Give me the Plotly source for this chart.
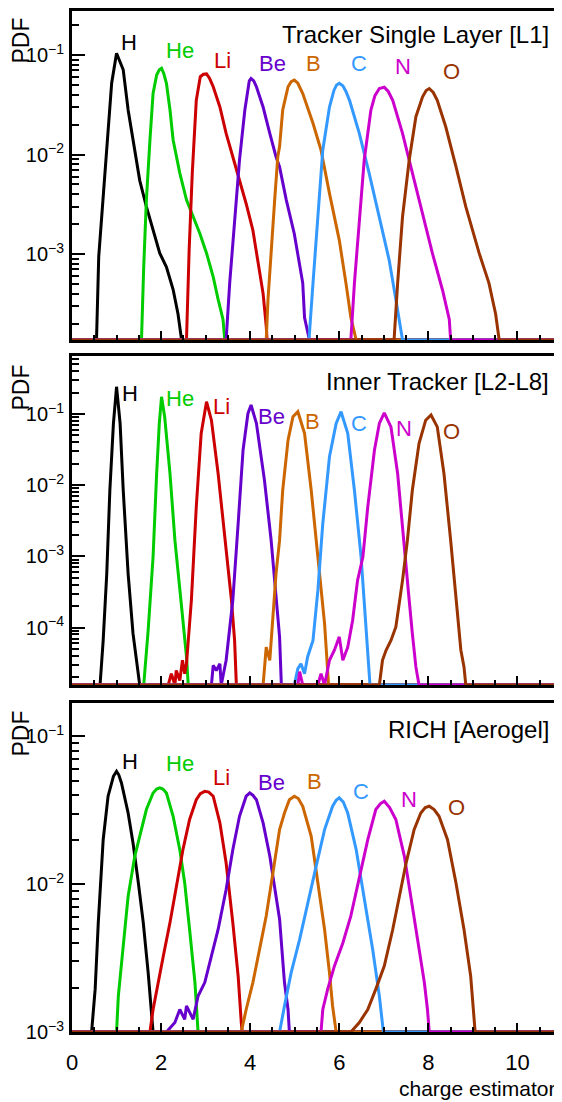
import plotly.graph_objects as go

# ---------------- chart content ----------------
SPECIES = ["H", "He", "Li", "Be", "B", "C", "N", "O"]
COLORS = ["#000000", "#00cc00", "#cc0000", "#6600cc", "#cc6600", "#3399ff", "#cc00cc", "#993300"]
PANEL_TITLES = ["Tracker Single Layer [L1]", "Inner Tracker [L2-L8]", "RICH [Aerogel]"]
X_TITLE = "charge estimator"
Y_TITLE = "PDF"

# ---- Tracker Single Layer [L1] (0 = empty bin) ----
L1_H_x = [0.55, 0.60, 0.78, 0.89, 1.00, 1.15, 1.26, 1.37, 1.52, 1.67, 1.82, 1.97, 2.12, 2.27, 2.38, 2.46]
L1_H_y = [0, 9.4e-4, 1.1e-2, 5.2e-2, 1.04e-1, 7.1e-2, 2.8e-2, 1.4e-2, 5.5e-3, 3.0e-3, 1.74e-3, 1.02e-3, 7.4e-4, 4.4e-4, 2.5e-4, 0]
L1_He_x = [1.56, 1.61, 1.67, 1.75, 1.82, 1.90, 1.96, 2.01, 2.06, 2.12, 2.20, 2.27, 2.42, 2.57, 2.72, 2.87, 3.02, 3.17, 3.28, 3.39, 3.43]
L1_He_y = [0, 7.5e-4, 3.5e-3, 1.4e-2, 4.1e-2, 6.3e-2, 7.1e-2, 7.35e-2, 6.5e-2, 5.2e-2, 2.8e-2, 1.4e-2, 6.5e-3, 3.5e-3, 2.37e-3, 1.61e-3, 1.02e-3, 5.9e-4, 3.5e-4, 2.2e-4, 0]
L1_Li_x = [2.57, 2.63, 2.70, 2.79, 2.88, 2.95, 3.02, 3.09, 3.17, 3.32, 3.46, 3.61, 3.76, 3.91, 4.06, 4.17, 4.29, 4.36, 4.38]
L1_Li_y = [0, 1.1e-3, 6.5e-3, 3.5e-2, 6.05e-2, 6.4e-2, 6.45e-2, 5.8e-2, 4.8e-2, 3.0e-2, 1.63e-2, 9.5e-3, 5.55e-3, 3.2e-3, 1.74e-3, 8.7e-4, 4.0e-4, 1.9e-4, 0]
L1_Be_x = [3.46, 3.54, 3.65, 3.76, 3.88, 3.95, 3.98, 4.02, 4.08, 4.14, 4.29, 4.44, 4.58, 4.66, 4.81, 4.99, 5.18, 5.22, 5.33]
L1_Be_y = [0, 5.1e-4, 2.37e-3, 8.8e-3, 2.8e-2, 4.8e-2, 5.5e-2, 5.8e-2, 5.5e-2, 4.8e-2, 3.0e-2, 1.63e-2, 9.5e-3, 7.5e-3, 3.5e-3, 1.6e-3, 5.1e-4, 2.3e-4, 0]
L1_B_x = [4.36, 4.40, 4.47, 4.55, 4.62, 4.66, 4.73, 4.85, 4.92, 4.99, 5.07, 5.18, 5.41, 5.59, 5.78, 6.00, 6.15, 6.26, 6.38]
L1_B_y = [0, 3.5e-4, 1.1e-3, 3.5e-3, 9.5e-3, 1.2e-2, 2.8e-2, 4.8e-2, 5.4e-2, 5.6e-2, 5.2e-2, 4.1e-2, 2.06e-2, 1.11e-2, 4.07e-3, 1.38e-3, 5.1e-4, 2.3e-4, 0]
L1_C_x = [5.32, 5.41, 5.52, 5.63, 5.78, 5.88, 5.94, 6.00, 6.08, 6.15, 6.23, 6.45, 6.67, 6.90, 7.12, 7.27, 7.42]
L1_C_y = [0, 5.1e-4, 2.37e-3, 1.11e-2, 3.0e-2, 4.4e-2, 5.0e-2, 5.2e-2, 4.9e-2, 4.3e-2, 3.5e-2, 1.63e-2, 6.5e-3, 2.37e-3, 8.7e-4, 3.5e-4, 0]
L1_N_x = [6.26, 6.34, 6.45, 6.56, 6.71, 6.80, 6.90, 7.01, 7.10, 7.20, 7.42, 7.64, 7.87, 8.09, 8.32, 8.47, 8.50]
L1_N_y = [0, 5.1e-4, 2.37e-3, 8.8e-3, 2.8e-2, 3.9e-2, 4.6e-2, 4.75e-2, 4.3e-2, 3.5e-2, 1.63e-2, 6.5e-3, 2.56e-3, 1.02e-3, 4.3e-4, 2.2e-4, 0]
L1_O_x = [7.23, 7.31, 7.42, 7.57, 7.72, 7.87, 7.95, 8.02, 8.11, 8.20, 8.39, 8.62, 8.84, 9.14, 9.36, 9.51, 9.59]
L1_O_y = [0, 5.1e-4, 2.37e-3, 8.8e-3, 2.4e-2, 3.8e-2, 4.4e-2, 4.6e-2, 4.2e-2, 3.5e-2, 1.9e-2, 7.55e-3, 2.99e-3, 1.02e-3, 5.1e-4, 2.5e-4, 0]

# ---- Inner Tracker [L2-L8] ----
IT_H_x = [0.63, 0.70, 0.78, 0.85, 0.93, 1.00, 1.08, 1.15, 1.26, 1.37, 1.49, 1.52]
IT_H_y = [0, 6.6e-5, 5.7e-4, 8.5e-3, 7.4e-2, 2.42e-1, 7.4e-2, 8.5e-3, 5.7e-4, 8.2e-5, 2.3e-5, 0]
IT_He_x = [1.61, 1.71, 1.82, 1.90, 1.96, 2.01, 2.08, 2.20, 2.31, 2.46, 2.57, 2.61]
IT_He_y = [0, 9.2e-5, 9.8e-4, 1.46e-2, 7.4e-2, 1.75e-1, 9.2e-2, 1.46e-2, 1.69e-3, 1.95e-4, 3.9e-5, 0]
IT_Li_x = [2.16, 2.23, 2.31, 2.34, 2.42, 2.48, 2.53, 2.57, 2.61, 2.68, 2.79, 2.90, 3.02, 3.13, 3.28, 3.43, 3.58, 3.65, 3.69]
IT_Li_y = [0, 2.25e-5, 0, 2.5e-5, 1.8e-5, 3.47e-5, 2.25e-5, 3.1e-5, 6.6e-5, 2.42e-4, 4.98e-3, 5.35e-2, 1.49e-1, 8.2e-2, 1.46e-2, 1.69e-3, 2.42e-4, 6.6e-5, 0]
IT_Be_x = [3.13, 3.17, 3.24, 3.32, 3.35, 3.46, 3.61, 3.73, 3.84, 3.95, 4.02, 4.14, 4.32, 4.47, 4.58, 4.66, 4.70]
IT_Be_y = [0, 2.95e-5, 2.5e-5, 3.1e-5, 0, 3.47e-5, 2.42e-4, 2.9e-3, 3.12e-2, 1.02e-1, 1.34e-1, 7.4e-2, 1.18e-2, 1.69e-3, 3.0e-4, 7.4e-5, 0]
IT_B_x = [4.29, 4.36, 4.44, 4.58, 4.66, 4.73, 4.85, 4.96, 5.07, 5.22, 5.37, 5.52, 5.67, 5.76]
IT_B_y = [0, 5.3e-5, 3.47e-5, 5.7e-4, 1.69e-3, 8.5e-3, 4.3e-2, 9.2e-2, 1.08e-1, 5.35e-2, 8.5e-3, 9.8e-4, 1.14e-4, 0]
IT_C_x = [4.99, 5.07, 5.14, 5.22, 5.29, 5.41, 5.52, 5.63, 5.78, 5.93, 6.04, 6.19, 6.34, 6.49, 6.60, 6.69]
IT_C_y = [0, 2.65e-5, 3.1e-5, 2.25e-5, 3.9e-5, 6.6e-5, 3.35e-4, 2.9e-3, 2.51e-2, 7.4e-2, 1.08e-1, 5.35e-2, 8.5e-3, 9.8e-4, 1.14e-4, 0]
IT_N_x = [5.07, 5.11, 5.18, 5.52, 5.59, 5.67, 5.78, 5.89, 6.00, 6.08, 6.19, 6.30, 6.41, 6.53, 6.64, 6.79, 6.90, 7.01, 7.16, 7.31, 7.46, 7.57, 7.64, 7.72, 7.79]
IT_N_y = [0, 2.4e-5, 0, 0, 2.25e-5, 0, 3.47e-5, 4.8e-5, 7.4e-5, 3.47e-5, 5.3e-5, 1.27e-4, 4.6e-4, 9.8e-4, 4.98e-3, 3.12e-2, 7.4e-2, 1.04e-1, 6.6e-2, 1.46e-2, 1.22e-3, 2.4e-4, 8.3e-5, 2.8e-5, 0]
IT_O_x = [6.90, 6.97, 7.05, 7.16, 7.27, 7.42, 7.53, 7.64, 7.79, 7.94, 8.06, 8.20, 8.35, 8.50, 8.62, 8.66, 8.73, 8.80, 8.84]
IT_O_y = [0, 3.47e-5, 4.8e-5, 6.6e-5, 1.02e-4, 4.6e-4, 1.69e-3, 8.5e-3, 3.86e-2, 8.2e-2, 9.7e-2, 6.6e-2, 1.46e-2, 1.69e-3, 2.4e-4, 1.15e-4, 4.8e-5, 2.8e-5, 0]

# ---- RICH [Aerogel] ----
RI_H_x = [0.44, 0.52, 0.59, 0.70, 0.81, 0.93, 1.00, 1.05, 1.11, 1.26, 1.37, 1.49, 1.60, 1.71, 1.78, 1.82]
RI_H_y = [0, 1.95e-3, 5.5e-3, 2.0e-2, 3.94e-2, 5.37e-2, 5.8e-2, 5.5e-2, 4.84e-2, 3.03e-2, 1.9e-2, 1.02e-2, 5.5e-3, 2.52e-3, 1.42e-3, 0]
RI_He_x = [1.00, 1.04, 1.15, 1.26, 1.41, 1.56, 1.67, 1.82, 1.90, 1.97, 2.04, 2.12, 2.27, 2.42, 2.53, 2.64, 2.76, 2.83]
RI_He_y = [0, 1.75e-3, 4.0e-3, 8.3e-3, 1.55e-2, 2.34e-2, 3.2e-2, 4.14e-2, 4.4e-2, 4.48e-2, 4.4e-2, 4.14e-2, 2.88e-2, 1.71e-2, 1.02e-2, 4.94e-3, 2.16e-3, 0]
RI_Li_x = [1.75, 1.82, 1.93, 2.05, 2.20, 2.34, 2.49, 2.64, 2.79, 2.88, 2.98, 3.07, 3.17, 3.32, 3.46, 3.61, 3.73, 3.80, 3.82]
RI_Li_y = [0, 1.42e-3, 2.16e-3, 3.27e-3, 5.5e-3, 9.7e-3, 1.71e-2, 2.74e-2, 3.73e-2, 4.1e-2, 4.25e-2, 4.2e-2, 3.94e-2, 2.6e-2, 1.39e-2, 5.5e-3, 2.39e-3, 1.16e-3, 0]
RI_Be_x = [2.12, 2.31, 2.42, 2.53, 2.57, 2.72, 2.83, 2.98, 3.13, 3.28, 3.46, 3.61, 3.76, 3.91, 3.99, 4.06, 4.14, 4.29, 4.44, 4.58, 4.66, 4.77, 4.85, 4.88]
RI_Be_y = [0, 1.16e-3, 1.42e-3, 1.22e-3, 1.5e-3, 1.22e-3, 1.75e-3, 2.16e-3, 3.27e-3, 4.94e-3, 9.2e-3, 1.71e-2, 2.88e-2, 3.94e-2, 4.14e-2, 4.0e-2, 3.73e-2, 2.6e-2, 1.55e-2, 8.3e-3, 5.8e-3, 2.16e-3, 1.42e-3, 0]
RI_B_x = [3.80, 3.91, 4.06, 4.21, 4.36, 4.51, 4.66, 4.77, 4.88, 4.99, 5.08, 5.18, 5.37, 5.52, 5.67, 5.78, 5.85, 5.93]
RI_B_y = [0, 1.42e-3, 2.16e-3, 3.62e-3, 6.1e-3, 1.19e-2, 2.34e-2, 3.03e-2, 3.73e-2, 3.94e-2, 3.8e-2, 3.37e-2, 2.11e-2, 1.02e-2, 4.94e-3, 2.52e-3, 1.5e-3, 0]
RI_C_x = [4.66, 4.77, 4.92, 5.11, 5.29, 5.48, 5.67, 5.85, 5.93, 6.00, 6.09, 6.19, 6.38, 6.56, 6.75, 6.90, 6.99]
RI_C_y = [0, 1.5e-3, 2.52e-3, 4.23e-3, 7.5e-3, 1.32e-2, 2.34e-2, 3.37e-2, 3.7e-2, 3.84e-2, 3.6e-2, 3.03e-2, 1.71e-2, 8.3e-3, 3.62e-3, 1.75e-3, 0]
RI_N_x = [5.59, 5.63, 5.74, 5.89, 6.08, 6.26, 6.45, 6.64, 6.82, 6.92, 7.01, 7.13, 7.27, 7.46, 7.64, 7.79, 7.91, 7.98, 8.02]
RI_N_y = [0, 1.42e-3, 1.95e-3, 2.79e-3, 4.0e-3, 6.1e-3, 1.08e-2, 2.0e-2, 3.2e-2, 3.5e-2, 3.64e-2, 3.3e-2, 2.74e-2, 1.55e-2, 7.1e-3, 3.62e-3, 2.16e-3, 1.42e-3, 0]
RI_O_x = [6.26, 6.45, 6.64, 6.82, 7.01, 7.20, 7.35, 7.50, 7.68, 7.83, 7.93, 8.02, 8.13, 8.24, 8.43, 8.62, 8.80, 8.95, 9.05]
RI_O_y = [0, 1.16e-3, 1.42e-3, 1.95e-3, 2.79e-3, 4.94e-3, 8.3e-3, 1.39e-2, 2.34e-2, 3.03e-2, 3.3e-2, 3.37e-2, 3.2e-2, 2.88e-2, 2.0e-2, 1.02e-2, 4.94e-3, 2.39e-3, 0]

PANELS = [
    [(L1_H_x, L1_H_y), (L1_He_x, L1_He_y), (L1_Li_x, L1_Li_y), (L1_Be_x, L1_Be_y),
     (L1_B_x, L1_B_y), (L1_C_x, L1_C_y), (L1_N_x, L1_N_y), (L1_O_x, L1_O_y)],
    [(IT_H_x, IT_H_y), (IT_He_x, IT_He_y), (IT_Li_x, IT_Li_y), (IT_Be_x, IT_Be_y),
     (IT_B_x, IT_B_y), (IT_C_x, IT_C_y), (IT_N_x, IT_N_y), (IT_O_x, IT_O_y)],
    [(RI_H_x, RI_H_y), (RI_He_x, RI_He_y), (RI_Li_x, RI_Li_y), (RI_Be_x, RI_Be_y),
     (RI_B_x, RI_B_y), (RI_C_x, RI_C_y), (RI_N_x, RI_N_y), (RI_O_x, RI_O_y)],
]

# ---------------- layout (page pixels; the page body adds an 8px margin) ----------------
PAGE_W, PAGE_H = 562, 1102
BODY = 8
W, H = PAGE_W - BODY, PAGE_H - BODY
PLOT_LEFT, PLOT_RIGHT = 72, 562          # page x of plot area
PLOT_TOP, PLOT_BOTTOM = 11, 1032         # page y of plot area
ML = PLOT_LEFT - BODY
MR = PAGE_W - PLOT_RIGHT
MT = PLOT_TOP - BODY
MB = PAGE_H - PLOT_BOTTOM
PLOT_H = PLOT_BOTTOM - PLOT_TOP
PLOT_W = PLOT_RIGHT - PLOT_LEFT

X_RANGE = [0, 11.0]
Y_RANGES = [[-3.864, -0.558], [-4.807, -0.184], [-3.0, -0.774]]
PANEL_PX = [(11, 340), (356, 685), (703, 1032)]   # page top, bottom of each panel

# species-label anchor points (x, log10 y) for each panel
LABEL_POS = [
    [(1.28, -0.874), (2.43, -0.955), (3.38, -1.06), (4.50, -1.09), (5.42, -1.09), (6.45, -1.09), (7.44, -1.12), (8.51, -1.17)],
    [(1.30, -0.705), (2.42, -0.775), (3.36, -0.90), (4.48, -1.04), (5.40, -1.11), (6.45, -1.13), (7.46, -1.20), (8.51, -1.24)],
    [(1.30, -1.171), (2.42, -1.184), (3.36, -1.28), (4.48, -1.31), (5.44, -1.306), (6.49, -1.373), (7.57, -1.428), (8.64, -1.48)],
]
TITLE_CY = [34, 382, 729]
PDF_CY = [41, 388, 734]

FONT = "Liberation Sans, Arial, Helvetica, sans-serif"


def py(ypx):
    return (PLOT_BOTTOM - ypx) / PLOT_H


def px(xpx):
    return (xpx - PLOT_LEFT) / PLOT_W


fig = go.Figure()
for p, panel in enumerate(PANELS):
    sfx = "" if p == 0 else str(p + 1)
    floor = 10 ** Y_RANGES[p][0]
    for i, (xs, ys) in enumerate(panel):
        xx = [X_RANGE[0]] + list(xs) + [X_RANGE[1]]
        yy = [floor if v == 0 else v for v in [0] + list(ys) + [0]]
        fig.add_trace(go.Scatter(
            x=xx, y=yy, mode="lines", name=SPECIES[i],
            line=dict(color=COLORS[i], width=3),
            xaxis="x" + sfx, yaxis="y" + sfx, showlegend=False, hoverinfo="skip"))

annotations = []
for p in range(3):
    sfx = "" if p == 0 else str(p + 1)
    top, bot = PANEL_PX[p]
    dom = [max(0.0, py(bot)), min(1.0, py(top))]
    fig.layout["xaxis" + sfx] = dict(
        domain=[0, 1], anchor="y" + sfx, range=X_RANGE,
        showline=True, linecolor="black", linewidth=2.5, mirror=True,
        ticks="inside", ticklen=9, tickwidth=2, tickcolor="black",
        tick0=0, dtick=2, showgrid=False, zeroline=False,
        minor=dict(ticks="inside", ticklen=5, tickwidth=2, tickcolor="black", dtick=0.5, showgrid=False),
        showticklabels=(p == 2), ticklabelstandoff=9,
        tickfont=dict(family=FONT, size=22, color="black"),
    )
    fig.layout["yaxis" + sfx] = dict(
        domain=dom, anchor="x" + sfx, type="log", range=Y_RANGES[p],
        showline=True, linecolor="black", linewidth=2.5, mirror=False,
        ticks="inside", ticklen=13, tickwidth=2, tickcolor="black",
        dtick=1, exponentformat="power", showgrid=False, zeroline=False,
        minor=dict(ticks="inside", ticklen=7, tickwidth=2, tickcolor="black", dtick="D1", showgrid=False),
        ticklabelstandoff=2,
        tickfont=dict(family=FONT, size=16, color="black"),
    )
    for i, (lx, ly) in enumerate(LABEL_POS[p]):
        annotations.append(dict(
            x=lx, y=ly, xref="x" + sfx, yref="y" + sfx, text=SPECIES[i], showarrow=False,
            xanchor="center", yanchor="middle",
            font=dict(family=FONT, size=22, color=COLORS[i])))
    annotations.append(dict(
        x=px(551), y=py(TITLE_CY[p]), xref="paper", yref="paper", text=PANEL_TITLES[p],
        showarrow=False, xanchor="right", yanchor="middle",
        font=dict(family=FONT, size=24, color="black")))
    annotations.append(dict(
        x=px(20.5), y=py(PDF_CY[p]), xref="paper", yref="paper", text=Y_TITLE,
        showarrow=False, xanchor="center", yanchor="middle", textangle=-90,
        font=dict(family=FONT, size=23, color="black")))

annotations.append(dict(
    x=px(557), y=py(1088), xref="paper", yref="paper", text=X_TITLE,
    showarrow=False, xanchor="right", yanchor="middle",
    font=dict(family=FONT, size=21, color="black")))

fig.update_layout(
    width=W, height=H,
    margin=dict(l=ML, r=MR, t=MT, b=MB, pad=0),
    paper_bgcolor="white", plot_bgcolor="white",
    annotations=annotations, showlegend=False,
)

fig.write_html("out.html")
